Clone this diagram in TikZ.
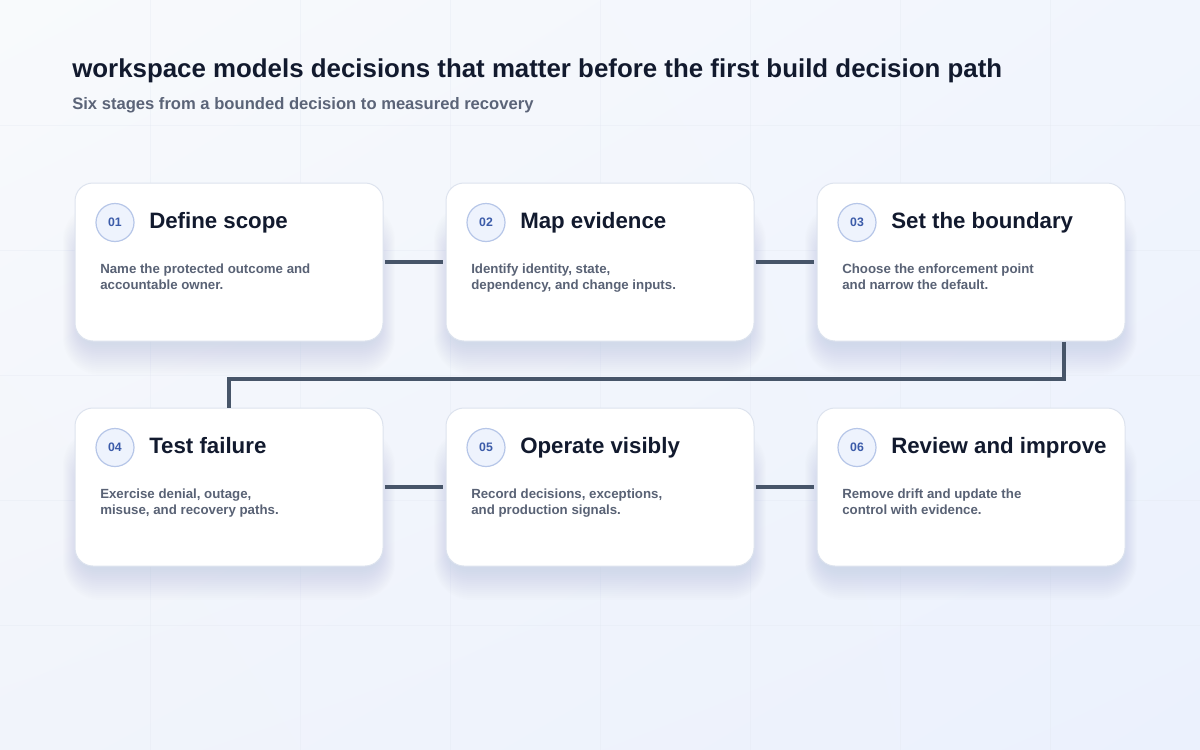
\documentclass[tikz,border=0pt]{standalone}
\usepackage{fontspec}
\setmainfont{Liberation Sans}
\usetikzlibrary{calc,shadings}
\definecolor{bgA}{HTML}{F8FAFC}
\definecolor{bgB}{HTML}{F1F5FD}
\definecolor{bgC}{HTML}{F1F4FB}
\definecolor{bgD}{HTML}{EBF1FD}
\definecolor{gridc}{HTML}{E3E8F1}
\definecolor{titlec}{HTML}{121A2E}
\definecolor{subc}{HTML}{5B6478}
\definecolor{bodyc}{HTML}{596275}
\definecolor{cardline}{HTML}{DDE3EE}
\definecolor{shadowc}{HTML}{7E8AA4}
\definecolor{numfill}{HTML}{EEF3FD}
\definecolor{numline}{HTML}{B6C6E8}
\definecolor{numtext}{HTML}{3B5BA9}
\definecolor{linkc}{HTML}{475569}
\pgfdeclarelayer{bg}
\pgfdeclarelayer{shade}
\pgfsetlayers{bg,shade,main}
\tikzset{
  cardbox/.style={draw=cardline, line width=0.75pt, fill=white, rounded corners=13.5pt,
    minimum width=231pt, minimum height=118.5pt, inner sep=0pt},
  numbadge/.style={circle, draw=numline, line width=0.9pt, fill=numfill, minimum size=28.5pt,
    inner sep=0pt, text=numtext, font=\fontsize{9.2}{10}\selectfont\bfseries},
  headtext/.style={anchor=base west, inner sep=0pt, text=titlec, font=\fontsize{16.7}{19}\selectfont\bfseries},
  bodytext/.style={anchor=base west, inner sep=0pt, text=bodyc, font=\fontsize{9.95}{12}\selectfont\bfseries},
  link/.style={draw=linkc, line width=3pt},
}
\begin{document}
\begin{tikzpicture}[x=0.75pt, y=-0.75pt]
\useasboundingbox (0,0) rectangle (1200,750);
\begin{pgfonlayer}{bg}
  \shade[upper left=bgA, upper right=bgB, lower left=bgC, lower right=bgD] (0,0) rectangle (1200,750);
  \foreach \gx in {150,300,...,1050} \draw[gridc, line width=0.75pt, opacity=0.35] (\gx,0) -- (\gx,750);
  \foreach \gy in {125,250,...,625} \draw[gridc, line width=0.75pt, opacity=0.35] (0,\gy) -- (1200,\gy);
\end{pgfonlayer}
\begin{pgfonlayer}{shade}
  \foreach \cx/\cy in {75/183, 446/183, 817/183, 75/408, 446/408, 817/408}{
    \foreach \k in {1,...,16}{
      \pgfmathsetmacro\rr{13.5+0.9*\k}
      \fill[shadowc, opacity=0.012, rounded corners=\rr pt]
        ({\cx+4-1.0*\k},{\cy+60-2.5*\k}) rectangle ({\cx+304+1.0*\k},{\cy+158+2+2.0*\k});
    }
  }
\end{pgfonlayer}

% title
\node[anchor=base west, inner sep=0pt, text=titlec, font=\fontsize{19.4}{22}\selectfont\bfseries] (title) at (72,77)
  {workspace models decisions that matter before the first build decision path};
\node[anchor=base west, inner sep=0pt, text=subc, font=\fontsize{12.45}{15}\selectfont\bfseries] (subtitle) at (72,109)
  {Six stages from a bounded decision to measured recovery};

% cards row 1
\node[cardbox] (c1) at (229,262) {};
\node[numbadge] (n1) at (115,222.5) {01};
\node[headtext] (h1) at (149,228) {Define scope};
\node[bodytext] (b1a) at (100,273) {Name the protected outcome and};
\node[bodytext] (b1b) at (100,289) {accountable owner.};

\node[cardbox] (c2) at (600,262) {};
\node[numbadge] (n2) at (486,222.5) {02};
\node[headtext] (h2) at (520,228) {Map evidence};
\node[bodytext] (b2a) at (471,273) {Identify identity, state,};
\node[bodytext] (b2b) at (471,289) {dependency, and change inputs.};

\node[cardbox] (c3) at (971,262) {};
\node[numbadge] (n3) at (857,222.5) {03};
\node[headtext] (h3) at (891,228) {Set the boundary};
\node[bodytext] (b3a) at (842,273) {Choose the enforcement point};
\node[bodytext] (b3b) at (842,289) {and narrow the default.};

% cards row 2
\node[cardbox] (c4) at (229,487) {};
\node[numbadge] (n4) at (115,447.5) {04};
\node[headtext] (h4) at (149,453) {Test failure};
\node[bodytext] (b4a) at (100,498) {Exercise denial, outage,};
\node[bodytext] (b4b) at (100,514) {misuse, and recovery paths.};

\node[cardbox] (c5) at (600,487) {};
\node[numbadge] (n5) at (486,447.5) {05};
\node[headtext] (h5) at (520,453) {Operate visibly};
\node[bodytext] (b5a) at (471,498) {Record decisions, exceptions,};
\node[bodytext] (b5b) at (471,514) {and production signals.};

\node[cardbox] (c6) at (971,487) {};
\node[numbadge] (n6) at (857,447.5) {06};
\node[headtext] (h6) at (891,453) {Review and improve};
\node[bodytext] (b6a) at (842,498) {Remove drift and update the};
\node[bodytext] (b6b) at (842,514) {control with evidence.};

% connectors
\coordinate (turn) at ($(c3.south west)!0.8!(c3.south east)$);
\draw[link, shorten <=1pt, shorten >=2pt] (c1.east) -- (c2.west);
\draw[link, shorten <=1pt, shorten >=2pt] (c2.east) -- (c3.west);
\draw[link] (turn) -- (turn |- 0,379) -- (c4.north |- 0,379) -- (c4.north);
\draw[link, shorten <=1pt, shorten >=2pt] (c4.east) -- (c5.west);
\draw[link, shorten <=1pt, shorten >=2pt] (c5.east) -- (c6.west);
\end{tikzpicture}
\end{document}
